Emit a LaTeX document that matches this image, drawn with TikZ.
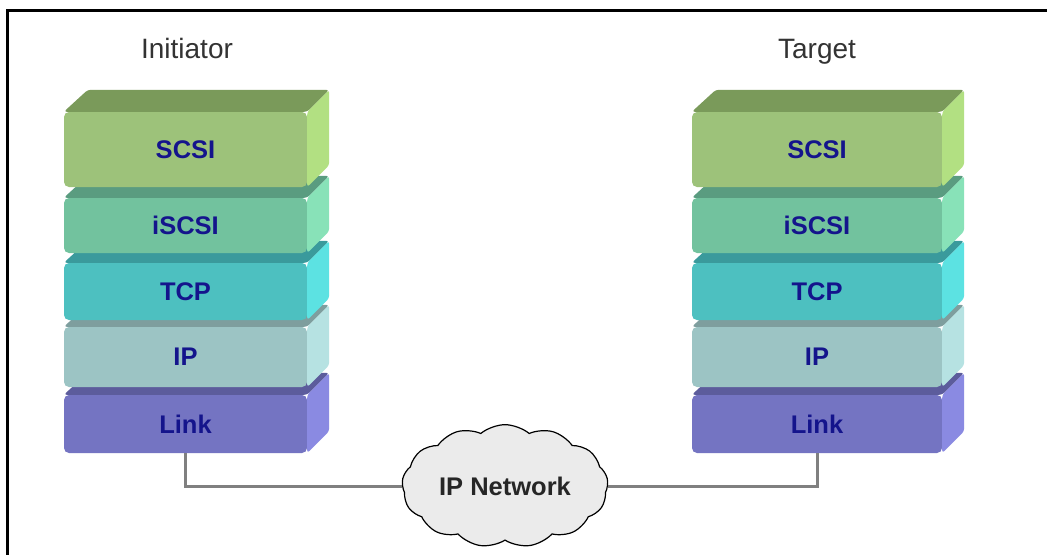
\documentclass[tikz,border=0pt]{standalone}
\usepackage{fontspec}
\setmainfont{Liberation Sans}
\usetikzlibrary{calc,shapes.symbols}
\definecolor{scsiF}{HTML}{9DC27A}
\definecolor{scsiT}{HTML}{7A9A5A}
\definecolor{scsiS}{HTML}{B2E082}
\definecolor{iscsiF}{HTML}{72C29E}
\definecolor{iscsiT}{HTML}{5A9C80}
\definecolor{iscsiS}{HTML}{88E2B8}
\definecolor{tcpF}{HTML}{4DC0C0}
\definecolor{tcpT}{HTML}{3A9A9C}
\definecolor{tcpS}{HTML}{5CE2E2}
\definecolor{ipF}{HTML}{9CC4C4}
\definecolor{ipT}{HTML}{7E9E9E}
\definecolor{ipS}{HTML}{B6E2E2}
\definecolor{linkF}{HTML}{7474C2}
\definecolor{linkT}{HTML}{5C5C9C}
\definecolor{linkS}{HTML}{8A8AE2}
\definecolor{labelblue}{HTML}{14148C}
\definecolor{connGray}{HTML}{808080}
\tikzset{
  layerbox/.style={rectangle, rounded corners=5pt, inner sep=0pt, text=labelblue,
    font=\bfseries\fontsize{25.5}{25.5}\selectfont},
  stacklabel/.style={text=black!80, anchor=base, inner sep=0pt, font=\fontsize{28}{28}\selectfont},
  conn/.style={draw=connGray, line width=3pt},
}
% #1 name, #2 x, #3 y, #4 width, #5 height, #6 front, #7 top, #8 side, #9 text
\newcommand\mklayer[9]{%
  \node[layerbox, fill=#6, minimum width=#4, minimum height=#5] (#1) at (#2,#3) {#9};
  \fill[#7, rounded corners=3pt] (#1.north west) -- ++(24,-22) -- ($(#1.north east)+(22,-22)$) -- (#1.north east) -- cycle;
  \fill[#8, rounded corners=3pt] (#1.north east) -- ++(22,-22) -- ($(#1.south east)+(22,-22)$) -- (#1.south east) -- cycle;
}
\begin{document}
\begin{tikzpicture}[x=1pt,y=-1pt]
\useasboundingbox (0,0) rectangle (1047,555);
\fill[white] (0,0) rectangle (1047,555);
\draw[line width=3pt] (1047,10) -- (7,10) -- (7,555);
% titles
\node[stacklabel] (init) at (187,58) {Initiator};
\node[stacklabel] (targ) at (817,58) {Target};
% left stack (bottom to top)
\mklayer{lLink}{185.5}{424}{243pt}{58pt}{linkF}{linkT}{linkS}{Link}
\mklayer{lIP}{185.5}{357}{243pt}{60pt}{ipF}{ipT}{ipS}{IP}
\mklayer{lTCP}{185.5}{291.5}{243pt}{57pt}{tcpF}{tcpT}{tcpS}{TCP}
\mklayer{liSCSI}{185.5}{225.5}{243pt}{55pt}{iscsiF}{iscsiT}{iscsiS}{iSCSI}
\mklayer{lSCSI}{185.5}{149.5}{243pt}{75pt}{scsiF}{scsiT}{scsiS}{SCSI}
% right stack
\mklayer{rLink}{817}{424}{250pt}{58pt}{linkF}{linkT}{linkS}{Link}
\mklayer{rIP}{817}{357}{250pt}{60pt}{ipF}{ipT}{ipS}{IP}
\mklayer{rTCP}{817}{291.5}{250pt}{57pt}{tcpF}{tcpT}{tcpS}{TCP}
\mklayer{riSCSI}{817}{225.5}{250pt}{55pt}{iscsiF}{iscsiT}{iscsiS}{iSCSI}
\mklayer{rSCSI}{817}{149.5}{250pt}{75pt}{scsiF}{scsiT}{scsiS}{SCSI}
% cloud
\node[cloud, cloud puffs=13, cloud puff arc=80, aspect=1.7, draw=black, line width=1.2pt,
  fill=black!8, minimum width=206pt, minimum height=118pt, inner sep=0pt,
  font=\bfseries\fontsize{25.5}{25.5}\selectfont, text=black!85] (net) at (505,486) {IP Network};
\draw[conn] (lLink.south) |- (net.west);
\draw[conn] (rLink.south) |- (net.east);
\end{tikzpicture}
\end{document}
